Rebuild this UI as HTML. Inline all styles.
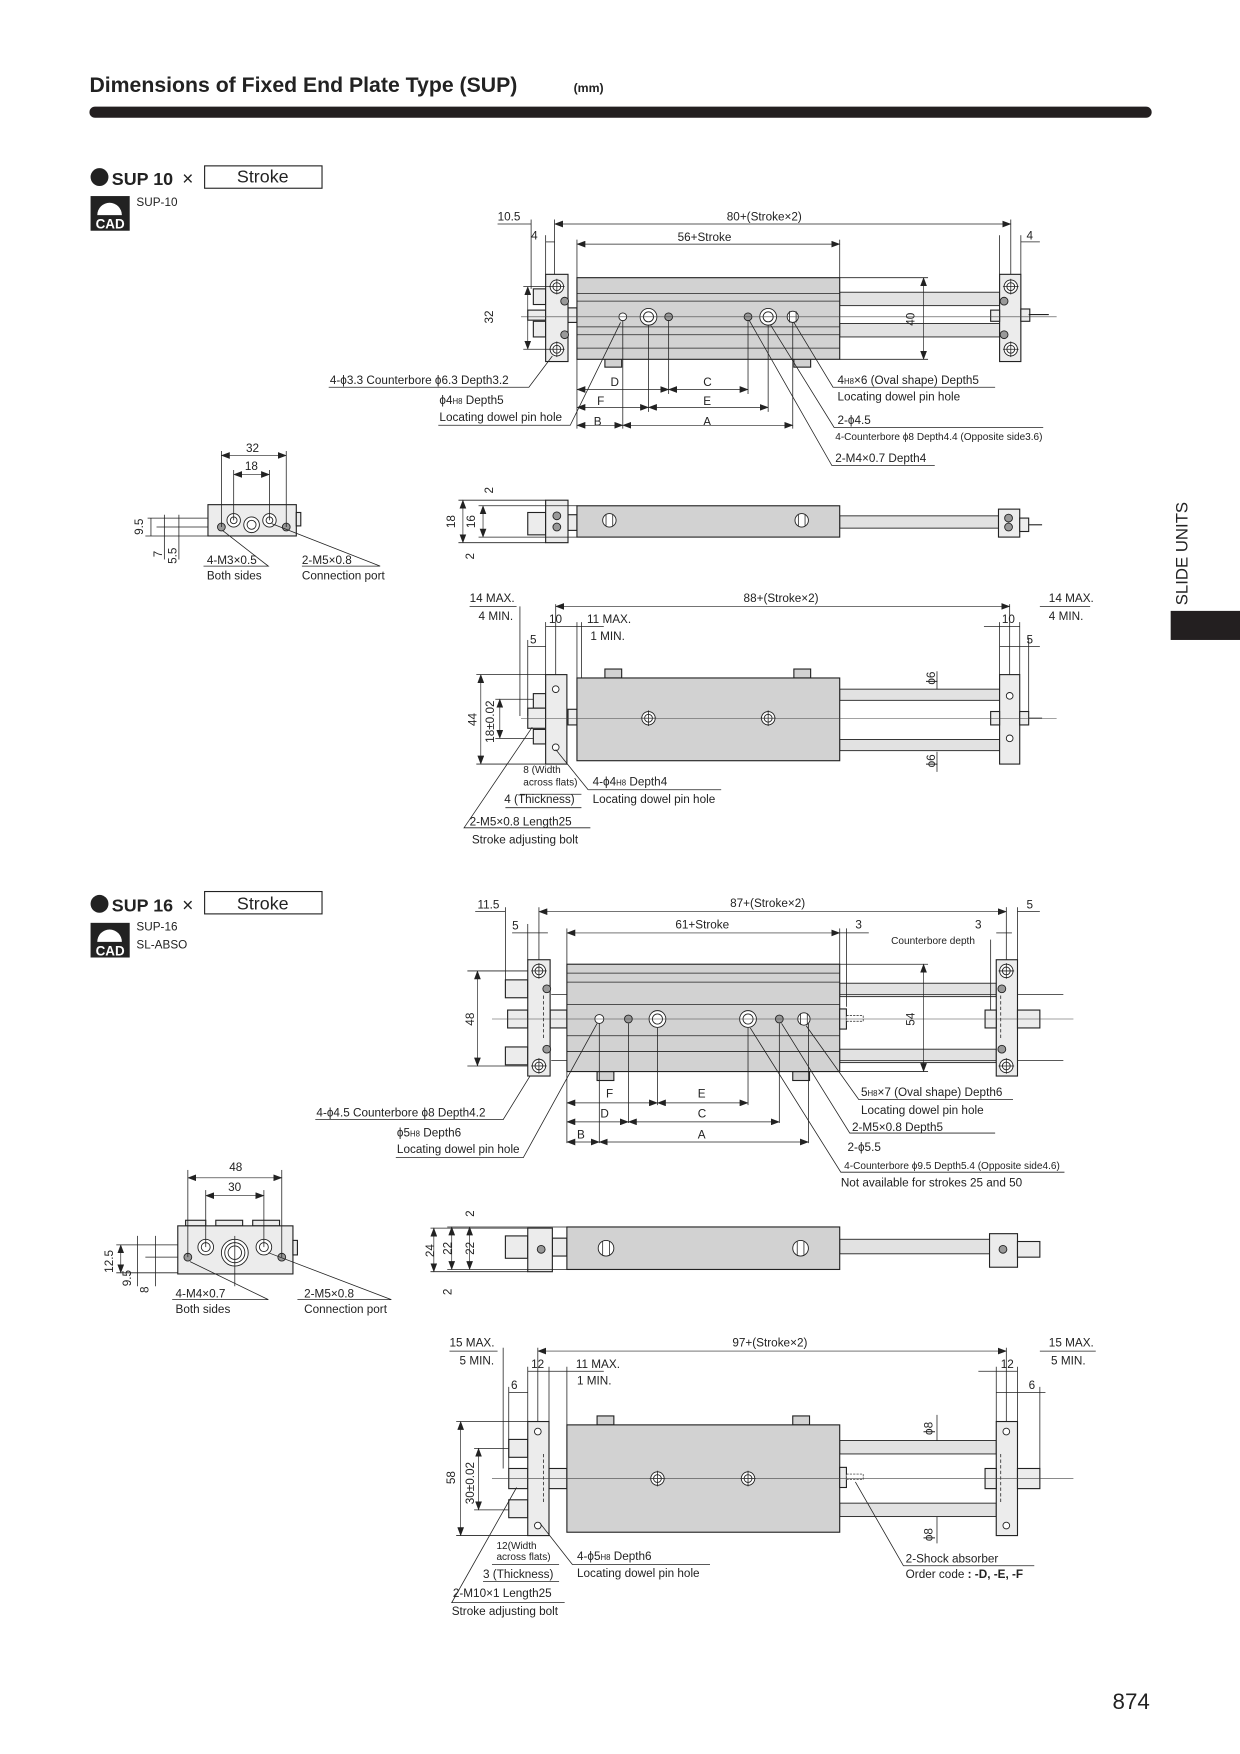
<!DOCTYPE html>
<html><head><meta charset="utf-8"><style>
html,body{margin:0;padding:0;background:#fff;}
svg{display:block;}
text{font-family:"Liberation Sans",Arial,sans-serif;fill:#222;}
.s{font-size:10.5px}
.xs{font-size:9px}
.ln{stroke:#222;stroke-width:0.7;fill:none}
.th{stroke:#222;stroke-width:1;fill:none}
.bd{fill:#d2d2d2;stroke:#222;stroke-width:1}
.pl{fill:#ececec;stroke:#222;stroke-width:1}
.rd{fill:#e2e2e2;stroke:#222;stroke-width:0.8}
.cl{stroke:#444;stroke-width:0.5;fill:none}
.dm{stroke:#222;stroke-width:0.6;fill:none;marker-start:url(#a);marker-end:url(#a)}
.ho{fill:#fff;stroke:#222;stroke-width:0.8}
</style></head><body>
<svg width="1240" height="1754" viewBox="0 0 1109 1568" xmlns="http://www.w3.org/2000/svg">
<defs>
<marker id="a" viewBox="0 0 8 6" refX="7.5" refY="3" markerWidth="8" markerHeight="6" orient="auto-start-reverse" markerUnits="userSpaceOnUse"><path d="M0,0 L8,3 L0,6 z" fill="#222"/></marker>
<g id="cb"><circle r="6" class="ho"/><circle r="3.5" class="ho"/><line x1="-7" y1="0" x2="7" y2="0" class="ln"/><line x1="0" y1="-7" x2="0" y2="7" class="ln"/></g>
<g id="sh"><circle r="3.5" fill="#999" stroke="#222" stroke-width="0.8"/></g>
<g id="bh"><circle r="7.5" class="ho"/><circle r="4.5" class="ho"/></g>
</defs>

<!-- Header -->
<text x="80" y="82" style="font-size:19px;font-weight:bold">Dimensions of Fixed End Plate Type (SUP)</text>
<text x="513" y="82" style="font-size:11px;font-weight:bold">(mm)</text>
<rect x="80" y="95" width="950" height="10" rx="5" fill="#231f20"/>

<!-- side tab -->
<text transform="translate(1062,541) rotate(-90)" style="font-size:15px">SLIDE UNITS</text>
<rect x="1047" y="546" width="62" height="26" fill="#231f20"/>
<text x="995" y="1528" style="font-size:20px">874</text>

<!-- ===== SECTION 1 ===== -->
<circle cx="89" cy="158" r="8" fill="#222"/>
<text x="100" y="165" style="font-size:16px;font-weight:bold">SUP 10</text>
<text x="163" y="165" style="font-size:17px">×</text>
<rect x="183" y="148" width="105" height="20" fill="#fff" stroke="#222"/>
<text x="235" y="163" text-anchor="middle" style="font-size:16px">Stroke</text>
<g><rect x="81" y="175" width="35" height="31" fill="#222"/><path d="M87,192 a11,11 0 0 1 22,0" fill="#fff"/><text x="98.5" y="204" text-anchor="middle" style="font-size:12px;font-weight:bold;fill:#fff">CAD</text></g>
<text x="122" y="184" class="s">SUP-10</text>

<!-- Top view 1 -->
<rect x="751" y="261" width="143" height="12" class="rd"/>
<rect x="751" y="289" width="143" height="12" class="rd"/>
<rect x="477" y="258" width="11" height="14" class="pl"/><rect x="477" y="287" width="11" height="14" class="pl"/>
<rect x="472" y="277" width="16" height="9" class="pl"/>
<rect x="508" y="275" width="8" height="13" class="pl"/>
<rect x="541" y="320" width="15" height="8" class="bd"/><rect x="710" y="320" width="15" height="8" class="bd"/>
<rect x="516" y="248" width="235" height="73" class="bd"/>
<line x1="516" y1="262" x2="751" y2="262" class="ln"/><line x1="516" y1="269" x2="751" y2="269" class="ln"/>
<line x1="516" y1="292" x2="751" y2="292" class="ln"/><line x1="516" y1="299" x2="751" y2="299" class="ln"/>
<line x1="516" y1="311" x2="751" y2="311" class="ln"/>
<rect x="488" y="245" width="20" height="78" class="pl"/>
<rect x="894" y="245" width="19" height="78" class="pl"/>
<rect x="886" y="277" width="8" height="10" class="pl"/><rect x="913" y="276" width="8" height="11" class="pl"/>
<line x1="920" y1="281" x2="938" y2="281" class="th"/>
<use href="#cb" x="498" y="256"/><use href="#cb" x="498" y="312"/><use href="#cb" x="904" y="256"/><use href="#cb" x="904" y="312"/>
<use href="#sh" x="505" y="269"/><use href="#sh" x="505" y="299"/><use href="#sh" x="898" y="269"/><use href="#sh" x="898" y="299"/>
<circle cx="557" cy="283" r="3.5" class="ho"/><use href="#bh" x="580" y="283"/><use href="#sh" x="598" y="283"/>
<use href="#sh" x="669" y="283"/><use href="#bh" x="687" y="283"/><circle cx="709" cy="283" r="5" class="ho"/><line x1="706" y1="278" x2="706" y2="288" class="ln"/><line x1="712" y1="278" x2="712" y2="288" class="ln"/>
<line x1="466" y1="283" x2="945" y2="283" class="cl"/>
<!-- dims -->
<line x1="475" y1="196" x2="475" y2="258" class="ln"/><line x1="488" y1="210" x2="488" y2="245" class="ln"/><line x1="496" y1="196" x2="496" y2="245" class="ln"/>
<line x1="516" y1="214" x2="516" y2="248" class="ln"/><line x1="751" y1="214" x2="751" y2="248" class="ln"/>
<line x1="894" y1="210" x2="894" y2="245" class="ln"/><line x1="904" y1="196" x2="904" y2="245" class="ln"/><line x1="913" y1="210" x2="913" y2="245" class="ln"/>
<line x1="445" y1="200" x2="475" y2="200" class="ln"/><line x1="496" y1="200" x2="904" y2="200" class="dm"/>
<text x="445" y="197" class="s">10.5</text><text x="650" y="197" class="s">80+(Stroke×2)</text>
<line x1="488" y1="216" x2="496" y2="216" class="ln"/><text x="475" y="214" class="s">4</text>
<line x1="516" y1="218" x2="751" y2="218" class="dm"/><text x="606" y="215" class="s">56+Stroke</text>
<text x="918" y="214" class="s">4</text><line x1="913" y1="216" x2="930" y2="216" class="ln"/>
<line x1="468" y1="256" x2="492" y2="256" class="ln"/><line x1="468" y1="312" x2="492" y2="312" class="ln"/>
<line x1="472" y1="256" x2="472" y2="312" class="dm"/><text transform="translate(441,289) rotate(-90)" class="s">32</text>
<line x1="751" y1="248" x2="830" y2="248" class="ln"/><line x1="751" y1="321" x2="830" y2="321" class="ln"/>
<line x1="826" y1="248" x2="826" y2="321" class="dm"/><text transform="translate(818,291) rotate(-90)" class="s">40</text>
<line x1="516" y1="321" x2="516" y2="383" class="ln"/><line x1="557" y1="286" x2="557" y2="383" class="ln"/><line x1="580" y1="290" x2="580" y2="368" class="ln"/>
<line x1="598" y1="286" x2="598" y2="352" class="ln"/><line x1="669" y1="286" x2="669" y2="352" class="ln"/><line x1="687" y1="290" x2="687" y2="368" class="ln"/><line x1="709" y1="288" x2="709" y2="383" class="ln"/>
<line x1="516" y1="348" x2="598" y2="348" class="dm"/><line x1="598" y1="348" x2="669" y2="348" class="dm"/>
<line x1="516" y1="364" x2="580" y2="364" class="dm"/><line x1="580" y1="364" x2="687" y2="364" class="dm"/>
<line x1="516" y1="380" x2="557" y2="380" class="dm"/><line x1="557" y1="380" x2="709" y2="380" class="dm"/>
<text x="546" y="345" class="s">D</text><text x="629" y="345" class="s">C</text><text x="534" y="362" class="s">F</text><text x="629" y="362" class="s">E</text><text x="531" y="380" class="s">B</text><text x="629" y="380" class="s">A</text>
<!-- leaders -->
<polyline points="294,346 473,346 494,318" class="ln"/><text x="295" y="343" class="s">4-ϕ3.3 Counterbore ϕ6.3 Depth3.2</text>
<polyline points="392,380 510,380 555,288" class="ln"/><text x="393" y="361" class="s">ϕ4<tspan style="font-size:7px">H8</tspan> Depth5</text><text x="393" y="376" class="s">Locating dowel pin hole</text>
<polyline points="710,288 745,346 890,346" class="ln"/><text x="749" y="343" class="s">4<tspan style="font-size:7px">H8</tspan>×6 (Oval shape) Depth5</text><text x="749" y="358" class="s">Locating dowel pin hole</text>
<polyline points="689,290 746,382 933,382" class="ln"/><text x="749" y="379" class="s">2-ϕ4.5</text><text x="747" y="393" class="xs">4-Counterbore ϕ8 Depth4.4 (Opposite side3.6)</text>
<polyline points="670,286 744,416 836,416" class="ln"/><text x="747" y="413" class="s">2-M4×0.7 Depth4</text>

<!-- End view 1 -->
<rect x="186" y="451" width="79" height="28" class="pl"/>
<rect x="265" y="458" width="4" height="12" class="pl"/>
<circle cx="209" cy="465" r="6" class="ho"/><circle cx="209" cy="465" r="3" class="ho"/>
<circle cx="225" cy="469" r="7" class="ho"/><circle cx="225" cy="469" r="4" class="ho"/>
<circle cx="241" cy="465" r="6" class="ho"/><circle cx="241" cy="465" r="3" class="ho"/>
<use href="#sh" x="198" y="471"/><use href="#sh" x="256" y="471"/>
<line x1="198" y1="403" x2="198" y2="471" class="ln"/><line x1="256" y1="403" x2="256" y2="471" class="ln"/>
<line x1="209" y1="420" x2="209" y2="465" class="ln"/><line x1="241" y1="420" x2="241" y2="465" class="ln"/>
<line x1="198" y1="407" x2="256" y2="407" class="dm"/><text x="220" y="404" class="s">32</text>
<line x1="209" y1="424" x2="241" y2="424" class="dm"/><text x="219" y="420" class="s">18</text>
<line x1="132" y1="463" x2="186" y2="463" class="ln"/><line x1="140" y1="471" x2="186" y2="471" class="ln"/><line x1="130" y1="479" x2="186" y2="479" class="ln"/>
<line x1="135" y1="463" x2="135" y2="479" class="ln"/><line x1="147" y1="460" x2="147" y2="500" class="ln"/><line x1="160" y1="460" x2="160" y2="500" class="ln"/>
<text transform="translate(128,478) rotate(-90)" class="s">9.5</text><text transform="translate(145,498) rotate(-90)" class="s">7</text><text transform="translate(158,504) rotate(-90)" class="s">5.5</text>
<polyline points="182,506 240,506 199,474" class="ln"/><text x="185" y="504" class="s">4-M3×0.5</text><text x="185" y="518" class="s">Both sides</text>
<polyline points="270,506 340,506 243,468" class="ln"/><text x="270" y="504" class="s">2-M5×0.8</text><text x="270" y="518" class="s">Connection port</text>

<!-- Side view 1 -->
<rect x="751" y="461" width="142" height="11" class="rd"/>
<rect x="472" y="458" width="16" height="20" class="pl"/>
<rect x="508" y="460" width="8" height="14" class="pl"/>
<rect x="516" y="452" width="235" height="28" class="bd"/>
<rect x="488" y="447" width="20" height="38" class="pl"/>
<rect x="893" y="455" width="19" height="25" class="pl"/><rect x="912" y="463" width="8" height="12" class="pl"/><line x1="920" y1="469" x2="932" y2="469" class="th"/>
<circle cx="545" cy="465" r="6" class="ho"/><circle cx="717" cy="465" r="6" class="ho"/>
<line x1="542" y1="460" x2="542" y2="470" class="ln"/><line x1="548" y1="460" x2="548" y2="470" class="ln"/><line x1="714" y1="460" x2="714" y2="470" class="ln"/><line x1="720" y1="460" x2="720" y2="470" class="ln"/>
<use href="#sh" x="498" y="461"/><use href="#sh" x="498" y="471"/><use href="#sh" x="902" y="463"/><use href="#sh" x="902" y="471"/>
<line x1="410" y1="447" x2="488" y2="447" class="ln"/><line x1="410" y1="485" x2="488" y2="485" class="ln"/><line x1="428" y1="452" x2="516" y2="452" class="ln"/><line x1="428" y1="480" x2="516" y2="480" class="ln"/>
<line x1="414" y1="447" x2="414" y2="485" class="dm"/><line x1="432" y1="452" x2="432" y2="480" class="dm"/>
<text transform="translate(407,472) rotate(-90)" class="s">18</text><text transform="translate(425,472) rotate(-90)" class="s">16</text><text transform="translate(441,441) rotate(-90)" class="s">2</text><text transform="translate(424,500) rotate(-90)" class="s">2</text>

<!-- Bottom view 1 -->
<rect x="751" y="616" width="143" height="10" class="rd"/><rect x="751" y="661" width="143" height="10" class="rd"/>
<rect x="477" y="620" width="11" height="13" class="pl"/><rect x="477" y="652" width="11" height="13" class="pl"/>
<rect x="472" y="633" width="16" height="18" class="pl"/><rect x="508" y="634" width="8" height="14" class="pl"/>
<rect x="541" y="598" width="15" height="8" class="bd"/><rect x="710" y="598" width="15" height="8" class="bd"/>
<rect x="516" y="606" width="235" height="74" class="bd"/>
<rect x="488" y="603" width="19" height="80" class="pl"/><rect x="894" y="603" width="18" height="80" class="pl"/>
<rect x="886" y="636" width="8" height="12" class="pl"/><rect x="912" y="636" width="8" height="12" class="pl"/><line x1="920" y1="642" x2="932" y2="642" class="th"/>
<use href="#cb" x="580" y="642"/><use href="#cb" x="687" y="642"/>
<circle cx="497" cy="616" r="3" class="ho"/><circle cx="497" cy="668" r="3" class="ho"/><circle cx="903" cy="622" r="3" class="ho"/><circle cx="903" cy="660" r="3" class="ho"/>
<line x1="466" y1="642" x2="945" y2="642" class="cl"/>
<line x1="420" y1="542" x2="462" y2="542" class="ln"/><text x="420" y="538" class="s">14 MAX.</text><text x="428" y="554" class="s">4 MIN.</text>
<line x1="465" y1="542" x2="465" y2="640" class="ln"/><line x1="472" y1="572" x2="472" y2="640" class="ln"/>
<line x1="488" y1="556" x2="488" y2="603" class="ln"/><line x1="497" y1="540" x2="497" y2="603" class="ln"/><line x1="516" y1="556" x2="516" y2="606" class="ln"/><line x1="520" y1="556" x2="520" y2="606" class="ln"/>
<line x1="497" y1="542" x2="903" y2="542" class="dm"/><text x="665" y="538" class="s">88+(Stroke×2)</text>
<line x1="488" y1="560" x2="540" y2="560" class="ln"/><text x="491" y="557" class="s">10</text><text x="525" y="557" class="s">11 MAX.</text><text x="528" y="572" class="s">1 MIN.</text>
<line x1="472" y1="578" x2="488" y2="578" class="ln"/><text x="474" y="575" class="s">5</text>
<line x1="903" y1="540" x2="903" y2="603" class="ln"/><line x1="912" y1="556" x2="912" y2="603" class="ln"/><line x1="894" y1="556" x2="894" y2="603" class="ln"/><line x1="920" y1="570" x2="920" y2="636" class="ln"/>
<line x1="930" y1="542" x2="975" y2="542" class="ln"/><text x="938" y="538" class="s">14 MAX.</text><text x="938" y="554" class="s">4 MIN.</text>
<text x="896" y="557" class="s">10</text><line x1="880" y1="560" x2="912" y2="560" class="ln"/><text x="918" y="575" class="s">5</text><line x1="894" y1="578" x2="930" y2="578" class="ln"/>
<line x1="426" y1="603" x2="488" y2="603" class="ln"/><line x1="426" y1="683" x2="488" y2="683" class="ln"/><line x1="430" y1="603" x2="430" y2="683" class="dm"/>
<text transform="translate(426,649) rotate(-90)" class="s">44</text>
<line x1="443" y1="625" x2="477" y2="625" class="ln"/><line x1="443" y1="660" x2="477" y2="660" class="ln"/><line x1="447" y1="625" x2="447" y2="660" class="dm"/>
<text transform="translate(442,664) rotate(-90)" class="s">18±0.02</text>
<line x1="838" y1="600" x2="838" y2="616" class="ln"/><line x1="838" y1="672" x2="838" y2="690" class="ln"/>
<text transform="translate(836,612) rotate(-90)" class="s">ϕ6</text><text transform="translate(836,686) rotate(-90)" class="s">ϕ6</text>
<line x1="465" y1="710" x2="520" y2="710" class="ln"/><text x="468" y="691" class="xs">8 (Width</text><text x="468" y="702" class="xs">across flats)</text><text x="451" y="718" class="s">4 (Thickness)</text>
<line x1="452" y1="722" x2="520" y2="722" class="ln"/>
<polyline points="526,706 645,706" class="ln"/><line x1="526" y1="706" x2="497" y2="670" class="ln"/><text x="530" y="702" class="s">4-ϕ4<tspan style="font-size:7px">H8</tspan> Depth4</text><text x="530" y="718" class="s">Locating dowel pin hole</text>
<polyline points="476,650 415,740 528,740" class="ln"/><text x="420" y="738" class="s">2-M5×0.8 Length25</text><text x="422" y="754" class="s">Stroke adjusting bolt</text>

<!-- ===== SECTION 2 ===== -->
<circle cx="89" cy="808" r="8" fill="#222"/>
<text x="100" y="815" style="font-size:16px;font-weight:bold">SUP 16</text>
<text x="163" y="815" style="font-size:17px">×</text>
<rect x="183" y="797" width="105" height="20" fill="#fff" stroke="#222"/>
<text x="235" y="813" text-anchor="middle" style="font-size:16px">Stroke</text>
<g><rect x="81" y="825" width="35" height="31" fill="#222"/><path d="M87,842 a11,11 0 0 1 22,0" fill="#fff"/><text x="98.5" y="854" text-anchor="middle" style="font-size:12px;font-weight:bold;fill:#fff">CAD</text></g>
<text x="122" y="832" class="s">SUP-16</text><text x="122" y="848" class="s">SL-ABSO</text>

<!-- Top view 2 -->
<rect x="751" y="879" width="140" height="12" class="rd"/><rect x="751" y="938" width="140" height="12" class="rd"/>
<line x1="493" y1="889" x2="951" y2="889" class="ln"/><line x1="493" y1="948" x2="951" y2="948" class="ln"/>
<rect x="452" y="876" width="20" height="16" class="pl"/><rect x="452" y="936" width="20" height="16" class="pl"/>
<rect x="454" y="903" width="18" height="16" class="pl"/><rect x="492" y="903" width="15" height="16" class="pl"/>
<rect x="534" y="958" width="15" height="8" class="bd"/><rect x="709" y="958" width="15" height="8" class="bd"/>
<rect x="507" y="862" width="244" height="96" class="bd"/>
<line x1="507" y1="870" x2="751" y2="870" class="ln"/><line x1="507" y1="878" x2="751" y2="878" class="ln"/><line x1="507" y1="898" x2="751" y2="898" class="ln"/>
<line x1="507" y1="926" x2="751" y2="926" class="ln"/><line x1="507" y1="940" x2="751" y2="940" class="ln"/>
<rect x="751" y="902" width="6" height="18" class="pl"/><rect x="757" y="908" width="15" height="5" fill="#fff" stroke="#222" stroke-width="0.6" stroke-dasharray="2,1"/>
<rect x="472" y="858" width="20" height="104" class="pl"/><rect x="891" y="858" width="19" height="104" class="pl"/>
<line x1="486" y1="890" x2="486" y2="930" class="ln" stroke-dasharray="3,2"/><line x1="895" y1="890" x2="895" y2="930" class="ln" stroke-dasharray="3,2"/>
<rect x="881" y="903" width="10" height="16" class="pl"/><rect x="910" y="903" width="20" height="16" class="pl"/>
<use href="#cb" x="482" y="868"/><use href="#cb" x="482" y="953"/><use href="#cb" x="900" y="868"/><use href="#cb" x="900" y="953"/>
<use href="#sh" x="489" y="884"/><use href="#sh" x="489" y="938"/><use href="#sh" x="896" y="884"/><use href="#sh" x="896" y="938"/>
<circle cx="536" cy="911" r="4" class="ho"/><use href="#sh" x="562" y="911"/><use href="#bh" x="588" y="911"/>
<use href="#bh" x="669" y="911"/><use href="#sh" x="697" y="911"/><circle cx="719" cy="911" r="5.5" class="ho"/><line x1="716" y1="906" x2="716" y2="916" class="ln"/><line x1="722" y1="906" x2="722" y2="916" class="ln"/>
<line x1="440" y1="911" x2="960" y2="911" class="cl"/>
<!-- dims 2 -->
<line x1="425" y1="815" x2="452" y2="815" class="ln"/><text x="427" y="812" class="s">11.5</text>
<line x1="452" y1="811" x2="452" y2="876" class="ln"/><line x1="472" y1="826" x2="472" y2="858" class="ln"/><line x1="482" y1="811" x2="482" y2="858" class="ln"/>
<line x1="482" y1="815" x2="900" y2="815" class="dm"/><text x="653" y="811" class="s">87+(Stroke×2)</text>
<line x1="900" y1="811" x2="900" y2="858" class="ln"/><line x1="910" y1="811" x2="910" y2="858" class="ln"/><text x="918" y="812" class="s">5</text><line x1="910" y1="815" x2="930" y2="815" class="ln"/>
<line x1="458" y1="834" x2="490" y2="834" class="ln"/><text x="458" y="831" class="s">5</text>
<line x1="507" y1="830" x2="507" y2="862" class="ln"/><line x1="751" y1="830" x2="751" y2="862" class="ln"/><line x1="757" y1="830" x2="757" y2="900" class="ln"/>
<line x1="507" y1="834" x2="751" y2="834" class="dm"/><text x="604" y="830" class="s">61+Stroke</text>
<line x1="751" y1="834" x2="777" y2="834" class="ln"/><text x="765" y="830" class="s">3</text>
<text x="872" y="830" class="s">3</text><text x="797" y="844" class="xs">Counterbore depth</text>
<line x1="891" y1="834" x2="905" y2="834" class="ln"/><line x1="886" y1="840" x2="886" y2="903" class="ln"/>
<line x1="418" y1="868" x2="472" y2="868" class="ln"/><line x1="418" y1="953" x2="472" y2="953" class="ln"/><line x1="427" y1="868" x2="427" y2="953" class="dm"/>
<text transform="translate(424,917) rotate(-90)" class="s">48</text>
<line x1="751" y1="862" x2="830" y2="862" class="ln"/><line x1="751" y1="958" x2="830" y2="958" class="ln"/><line x1="826" y1="862" x2="826" y2="958" class="dm"/>
<text transform="translate(818,917) rotate(-90)" class="s">54</text>
<line x1="507" y1="958" x2="507" y2="1022" class="ln"/><line x1="536" y1="915" x2="536" y2="1022" class="ln"/><line x1="562" y1="915" x2="562" y2="1004" class="ln"/><line x1="588" y1="919" x2="588" y2="988" class="ln"/>
<line x1="669" y1="919" x2="669" y2="988" class="ln"/><line x1="697" y1="915" x2="697" y2="1004" class="ln"/><line x1="723" y1="915" x2="723" y2="1022" class="ln"/>
<line x1="507" y1="986" x2="588" y2="986" class="dm"/><line x1="588" y1="986" x2="669" y2="986" class="dm"/>
<line x1="507" y1="1003" x2="562" y2="1003" class="dm"/><line x1="562" y1="1003" x2="697" y2="1003" class="dm"/>
<line x1="507" y1="1021" x2="536" y2="1021" class="dm"/><line x1="536" y1="1021" x2="723" y2="1021" class="dm"/>
<text x="542" y="981" class="s">F</text><text x="624" y="981" class="s">E</text><text x="537" y="999" class="s">D</text><text x="624" y="999" class="s">C</text><text x="516" y="1018" class="s">B</text><text x="624" y="1018" class="s">A</text>
<polyline points="282,1001 450,1001 474,962" class="ln"/><text x="283" y="998" class="s">4-ϕ4.5 Counterbore ϕ8 Depth4.2</text>
<polyline points="354,1035 468,1035 534,915" class="ln"/><text x="355" y="1016" class="s">ϕ5<tspan style="font-size:7px">H8</tspan> Depth6</text><text x="355" y="1031" class="s">Locating dowel pin hole</text>
<polyline points="721,917 768,983 906,983" class="ln"/><text x="770" y="980" class="s">5<tspan style="font-size:7px">H8</tspan>×7 (Oval shape) Depth6</text><text x="770" y="996" class="s">Locating dowel pin hole</text>
<polyline points="699,915 760,1013 890,1013" class="ln"/><text x="762" y="1011" class="s">2-M5×0.8 Depth5</text>
<polyline points="671,919 752,1048 952,1048" class="ln"/><text x="758" y="1029" class="s">2-ϕ5.5</text><text x="755" y="1045" class="xs">4-Counterbore ϕ9.5  Depth5.4 (Opposite side4.6)</text>
<text x="752" y="1061" class="s">Not available for strokes 25 and 50</text>

<!-- End view 2 -->
<rect x="166" y="1091" width="18" height="5" class="pl"/><rect x="193" y="1091" width="24" height="5" class="pl"/><rect x="226" y="1091" width="24" height="5" class="pl"/>
<rect x="159" y="1096" width="103" height="43" class="pl"/><rect x="262" y="1109" width="4" height="13" class="pl"/>
<circle cx="184" cy="1115" r="7" class="ho"/><circle cx="184" cy="1115" r="4" class="ho"/>
<circle cx="236" cy="1115" r="7" class="ho"/><circle cx="236" cy="1115" r="4" class="ho"/>
<circle cx="210" cy="1120" r="12" class="ho"/><circle cx="210" cy="1120" r="9" class="ho"/><circle cx="210" cy="1120" r="6" class="ho"/>
<use href="#sh" x="168" y="1124"/><use href="#sh" x="252" y="1124"/>
<line x1="168" y1="1046" x2="168" y2="1124" class="ln"/><line x1="252" y1="1046" x2="252" y2="1124" class="ln"/>
<line x1="184" y1="1064" x2="184" y2="1115" class="ln"/><line x1="236" y1="1064" x2="236" y2="1115" class="ln"/><line x1="210" y1="1105" x2="210" y2="1150" class="ln"/>
<line x1="168" y1="1053" x2="252" y2="1053" class="dm"/><text x="205" y="1047" class="s">48</text>
<line x1="184" y1="1069" x2="236" y2="1069" class="dm"/><text x="204" y="1065" class="s">30</text>
<line x1="104" y1="1113" x2="159" y2="1113" class="ln"/><line x1="130" y1="1124" x2="159" y2="1124" class="ln"/><line x1="104" y1="1138" x2="159" y2="1138" class="ln"/>
<line x1="108" y1="1113" x2="108" y2="1138" class="dm"/><line x1="123" y1="1105" x2="123" y2="1150" class="ln"/><line x1="139" y1="1105" x2="139" y2="1150" class="ln"/>
<text transform="translate(101,1138) rotate(-90)" class="s">12.5</text><text transform="translate(117,1150) rotate(-90)" class="s">9.5</text><text transform="translate(133,1156) rotate(-90)" class="s">8</text>
<polyline points="154,1162 240,1162 170,1128" class="ln"/><text x="157" y="1160" class="s">4-M4×0.7</text><text x="157" y="1174" class="s">Both sides</text>
<polyline points="266,1162 350,1162 240,1120" class="ln"/><text x="272" y="1160" class="s">2-M5×0.8</text><text x="272" y="1174" class="s">Connection port</text>

<!-- Side view 2 -->
<rect x="751" y="1108" width="134" height="13" class="rd"/>
<rect x="452" y="1105" width="20" height="20" class="pl"/><rect x="494" y="1107" width="13" height="16" class="pl"/>
<rect x="507" y="1097" width="244" height="38" class="bd"/>
<rect x="472" y="1098" width="22" height="39" class="pl"/>
<rect x="885" y="1103" width="25" height="30" class="pl"/><rect x="910" y="1110" width="20" height="14" class="pl"/>
<circle cx="542" cy="1116" r="7" class="ho"/><circle cx="716" cy="1116" r="7" class="ho"/>
<line x1="539" y1="1110" x2="539" y2="1122" class="ln"/><line x1="545" y1="1110" x2="545" y2="1122" class="ln"/><line x1="713" y1="1110" x2="713" y2="1122" class="ln"/><line x1="719" y1="1110" x2="719" y2="1122" class="ln"/>
<use href="#sh" x="484" y="1117"/><use href="#sh" x="897" y="1117"/>
<line x1="385" y1="1098" x2="472" y2="1098" class="ln"/><line x1="385" y1="1137" x2="472" y2="1137" class="ln"/><line x1="388" y1="1098" x2="388" y2="1137" class="dm"/>
<line x1="400" y1="1097" x2="507" y2="1097" class="ln"/><line x1="400" y1="1135" x2="507" y2="1135" class="ln"/><line x1="404" y1="1097" x2="404" y2="1135" class="dm"/><line x1="420" y1="1097" x2="420" y2="1135" class="dm"/>
<text transform="translate(388,1124) rotate(-90)" class="s">24</text><text transform="translate(404,1122) rotate(-90)" class="s">22</text><text transform="translate(424,1122) rotate(-90)" class="s">22</text>
<text transform="translate(424,1088) rotate(-90)" class="s">2</text><text transform="translate(404,1158) rotate(-90)" class="s">2</text>

<!-- Bottom view 2 -->
<rect x="751" y="1288" width="140" height="12" class="rd"/><rect x="751" y="1344" width="140" height="12" class="rd"/>
<rect x="455" y="1287" width="17" height="16" class="pl"/><rect x="455" y="1341" width="17" height="16" class="pl"/>
<rect x="455" y="1313" width="17" height="18" class="pl"/><rect x="491" y="1313" width="16" height="18" class="pl"/>
<rect x="534" y="1266" width="15" height="8" class="bd"/><rect x="709" y="1266" width="15" height="8" class="bd"/>
<rect x="507" y="1274" width="244" height="96" class="bd"/>
<rect x="751" y="1312" width="6" height="18" class="pl"/><rect x="757" y="1318" width="15" height="5" fill="#fff" stroke="#222" stroke-width="0.6" stroke-dasharray="2,1"/>
<rect x="472" y="1271" width="19" height="102" class="pl"/><rect x="891" y="1271" width="19" height="102" class="pl"/>
<rect x="881" y="1313" width="10" height="18" class="pl"/><rect x="910" y="1313" width="20" height="18" class="pl"/>
<line x1="486" y1="1300" x2="486" y2="1345" class="ln" stroke-dasharray="3,2"/><line x1="895" y1="1300" x2="895" y2="1345" class="ln" stroke-dasharray="3,2"/>
<use href="#cb" x="588" y="1322"/><use href="#cb" x="669" y="1322"/>
<circle cx="481" cy="1280" r="3" class="ho"/><circle cx="481" cy="1364" r="3" class="ho"/><circle cx="900" cy="1280" r="3" class="ho"/><circle cx="900" cy="1364" r="3" class="ho"/>
<line x1="440" y1="1322" x2="960" y2="1322" class="cl"/>
<line x1="402" y1="1208" x2="445" y2="1208" class="ln"/><text x="402" y="1204" class="s">15 MAX.</text><text x="411" y="1220" class="s">5 MIN.</text>
<line x1="450" y1="1205" x2="450" y2="1313" class="ln"/><line x1="455" y1="1240" x2="455" y2="1313" class="ln"/>
<line x1="472" y1="1222" x2="472" y2="1271" class="ln"/><line x1="481" y1="1205" x2="481" y2="1271" class="ln"/><line x1="491" y1="1222" x2="491" y2="1271" class="ln"/><line x1="507" y1="1222" x2="507" y2="1274" class="ln"/>
<line x1="481" y1="1208" x2="900" y2="1208" class="dm"/><text x="655" y="1204" class="s">97+(Stroke×2)</text>
<line x1="472" y1="1226" x2="540" y2="1226" class="ln"/><text x="475" y="1223" class="s">12</text><text x="515" y="1223" class="s">11 MAX.</text><text x="516" y="1238" class="s">1 MIN.</text>
<line x1="455" y1="1245" x2="472" y2="1245" class="ln"/><text x="457" y="1242" class="s">6</text>
<line x1="900" y1="1205" x2="900" y2="1271" class="ln"/><line x1="910" y1="1222" x2="910" y2="1271" class="ln"/><line x1="891" y1="1222" x2="891" y2="1271" class="ln"/><line x1="930" y1="1240" x2="930" y2="1313" class="ln"/>
<line x1="930" y1="1208" x2="980" y2="1208" class="ln"/><text x="938" y="1204" class="s">15 MAX.</text><text x="940" y="1220" class="s">5 MIN.</text>
<text x="895" y="1223" class="s">12</text><line x1="875" y1="1226" x2="910" y2="1226" class="ln"/><text x="920" y="1242" class="s">6</text><line x1="891" y1="1245" x2="935" y2="1245" class="ln"/>
<line x1="408" y1="1271" x2="472" y2="1271" class="ln"/><line x1="408" y1="1373" x2="472" y2="1373" class="ln"/><line x1="412" y1="1271" x2="412" y2="1373" class="dm"/>
<text transform="translate(407,1327) rotate(-90)" class="s">58</text>
<line x1="424" y1="1295" x2="455" y2="1295" class="ln"/><line x1="424" y1="1350" x2="455" y2="1350" class="ln"/><line x1="428" y1="1295" x2="428" y2="1350" class="dm"/>
<text transform="translate(424,1345) rotate(-90)" class="s">30±0.02</text>
<line x1="838" y1="1265" x2="838" y2="1288" class="ln"/><line x1="838" y1="1356" x2="838" y2="1380" class="ln"/>
<text transform="translate(834,1283) rotate(-90)" class="s">ϕ8</text><text transform="translate(834,1378) rotate(-90)" class="s">ϕ8</text>
<line x1="440" y1="1399" x2="500" y2="1399" class="ln"/><text x="444" y="1385" class="xs">12(Width</text><text x="444" y="1395" class="xs">across flats)</text><text x="432" y="1411" class="s">3 (Thickness)</text>
<line x1="432" y1="1414" x2="500" y2="1414" class="ln"/>
<polyline points="512,1399 635,1399" class="ln"/><line x1="512" y1="1399" x2="483" y2="1362" class="ln"/><text x="516" y="1395" class="s">4-ϕ5<tspan style="font-size:7px">H8</tspan> Depth6</text><text x="516" y="1410" class="s">Locating dowel pin hole</text>
<polyline points="462,1330 404,1433 505,1433" class="ln"/><text x="405" y="1428" class="s">2-M10×1 Length25</text><text x="404" y="1444" class="s">Stroke adjusting bolt</text>
<polyline points="765,1325 808,1400 925,1400" class="ln"/><text x="810" y="1397" class="s">2-Shock absorber</text><text x="810" y="1411" class="s">Order code <tspan style="font-weight:bold">: -D, -E, -F</tspan></text>
</svg>
</body></html>
